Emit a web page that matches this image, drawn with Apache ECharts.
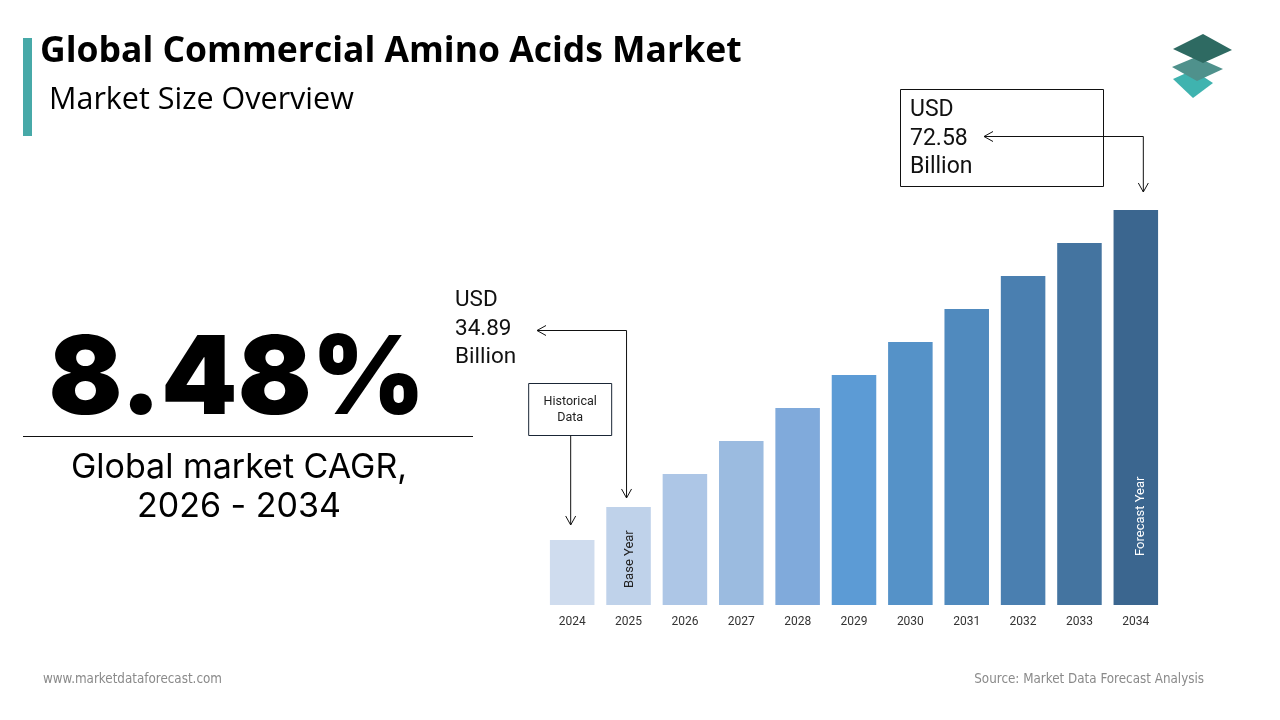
<!DOCTYPE html>
<html>
<head>
<meta charset="utf-8">
<script src="https://cdn.jsdelivr.net/npm/echarts@6/dist/echarts.min.js"></script>
<style>
html,body{margin:0;padding:0;background:#fff;}
#c{width:1280px;height:720px;}
</style>
</head>
<body>
<div id="c"></div>
<script>
const categories = ['2024','2025','2026','2027','2028','2029','2030','2031','2032','2033','2034'];
const values = [30.70, 34.89, 39.07, 43.26, 47.45, 51.64, 55.83, 60.01, 64.20, 68.39, 72.58];
const barColors = ['#cfdcee','#bfd2ea','#adc6e6','#9bbbe0','#80aadb','#5c9bd5','#5592c8','#508abe','#4a7fb0','#4474a0','#3b668f'];
const baseLabel = 'USD\n34.89\nBillion';
const forecastLabel = 'USD\n72.58\nBillion';
const yMin = 22.45, yMax = 78.29;

const chart = echarts.init(document.getElementById('c'));
const option = {
  backgroundColor: '#fff',
  animation: false,
  grid: {left: 544, right: 116, top: 165, bottom: 115},
  xAxis: {
    type: 'category', data: categories,
    axisLine: {show: false}, axisTick: {show: false},
    axisLabel: {color: '#333', fontSize: 12, fontFamily: 'Roboto', margin: 11}
  },
  yAxis: {type: 'value', min: yMin, max: yMax, show: false, splitLine: {show: false}},
  series: [{
    type: 'bar',
    barCategoryGap: '21%',
    data: values.map((v, i) => ({value: v, itemStyle: {color: barColors[i]}}))
  }]
};
chart.setOption(option);

function px(i, v) { return chart.convertToPixel({gridIndex: 0}, [categories[i], v]); }
const p2024 = px(0, values[0]);
const p2025 = px(1, values[1]);
const p2034 = px(10, values[10]);
const base2025 = px(1, yMin);
const base2034 = px(10, yMin);
const line = {stroke: '#111', lineWidth: 1};

function arrowDown(x, y) {
  return {type: 'polyline', shape: {points: [[x - 5, y - 9], [x, y], [x + 5, y - 9]]}, style: Object.assign({fill: null}, line)};
}
function arrowLeft(x, y) {
  return {type: 'polyline', shape: {points: [[x + 9, y - 5], [x, y], [x + 9, y + 5]]}, style: Object.assign({fill: null}, line)};
}

const g = [
  // accent bar
  {type: 'rect', shape: {x: 23, y: 38, width: 9, height: 98}, style: {fill: '#47a9a8'}},
  {type: 'text', x: 40, y: 52, style: {text: 'Global Commercial Amino Acids Market', font: 'bold 35.5px "Open Sans"', fill: '#000', textVerticalAlign: 'middle'}},
  {type: 'text', x: 49, y: 100, style: {text: 'Market Size Overview', font: '30.5px "Open Sans"', fill: '#000', textVerticalAlign: 'middle'}},
  // logo
  {type: 'polygon', shape: {points: [[1173, 79], [1193, 70], [1213, 83], [1193, 98]]}, style: {fill: '#3fb3af'}},
  {type: 'polygon', shape: {points: [[1172, 67], [1196, 57], [1223, 69], [1197, 81]]}, style: {fill: '#4f918c'}},
  {type: 'polygon', shape: {points: [[1173, 49], [1203, 34], [1232, 50], [1203, 63]]}, style: {fill: '#2e6a62'}},
  // big CAGR
  {type: 'text', x: 237, y: 381, style: {text: '8.48%', font: '900 109px Inter', fill: '#000', textAlign: 'center', textVerticalAlign: 'middle'}},
  {type: 'line', shape: {x1: 23, y1: 436.5, x2: 473, y2: 436.5}, style: line},
  {type: 'text', x: 239, y: 468, style: {text: 'Global market CAGR,', font: '34px Inter', fill: '#000', textAlign: 'center', textVerticalAlign: 'middle'}},
  {type: 'text', x: 239, y: 507, style: {text: '2026 - 2034', font: '34px Inter', fill: '#000', textAlign: 'center', textVerticalAlign: 'middle'}},
  // base value label
  {type: 'text', x: 455, y: 329, style: {text: baseLabel, font: '22.5px Roboto', lineHeight: 28.5, fill: '#111', textVerticalAlign: 'middle'}},
  {type: 'polyline', shape: {points: [[537, 330.5], [p2025[0] - 2, 330.5], [p2025[0] - 2, p2025[1] - 9]]}, style: Object.assign({fill: null}, line)},
  arrowLeft(537, 330.5),
  arrowDown(p2025[0] - 2, p2025[1] - 9),
  // historical box
  {type: 'rect', shape: {x: p2024[0] - 43.5, y: 383.5, width: 83, height: 52}, style: {fill: '#fff', stroke: '#1a2636', lineWidth: 1}},
  {type: 'text', x: p2024[0] - 2, y: 410, style: {text: 'Historical\nData', font: '12.5px Roboto', lineHeight: 16, fill: '#222', textAlign: 'center', textVerticalAlign: 'middle'}},
  {type: 'line', shape: {x1: p2024[0] - 1.5, y1: 435.5, x2: p2024[0] - 1.5, y2: p2024[1] - 15}, style: line},
  arrowDown(p2024[0] - 1.5, p2024[1] - 15),
  // forecast box
  {type: 'rect', shape: {x: 900.5, y: 89.5, width: 203, height: 97}, style: {fill: null, stroke: '#111', lineWidth: 1}},
  {type: 'text', x: 910, y: 139, style: {text: forecastLabel, font: '23px Roboto', lineHeight: 28.5, fill: '#111', textVerticalAlign: 'middle'}},
  {type: 'polyline', shape: {points: [[984, 136.5], [p2034[0] + 7.5, 136.5], [p2034[0] + 7.5, p2034[1] - 18]]}, style: Object.assign({fill: null}, line)},
  arrowLeft(984, 136.5),
  arrowDown(p2034[0] + 7.5, p2034[1] - 18),
  // rotated labels in bars
  {type: 'text', x: base2025[0] + 1, y: base2025[1] - 17, rotation: Math.PI / 2, style: {text: 'Base Year', font: '13px Roboto', fill: '#222', textAlign: 'left', textVerticalAlign: 'middle'}},
  {type: 'text', x: base2034[0] + 5, y: base2034[1] - 49, rotation: Math.PI / 2, style: {text: 'Forecast Year', font: '13px Roboto', fill: '#fff', textAlign: 'left', textVerticalAlign: 'middle'}},
  // footer
  {type: 'text', x: 43, y: 680, style: {text: 'www.marketdataforecast.com', font: '13.3px "DejaVu Sans Condensed", sans-serif', fill: '#8a8a8a', textVerticalAlign: 'middle'}},
  {type: 'text', x: 1204, y: 680, style: {text: 'Source: Market Data Forecast Analysis', font: '13.3px "DejaVu Sans Condensed", sans-serif', fill: '#8a8a8a', textAlign: 'right', textVerticalAlign: 'middle'}}
];
g.forEach(e => { e.z = 100; });
chart.setOption({graphic: {elements: g}});
</script>
</body>
</html>
